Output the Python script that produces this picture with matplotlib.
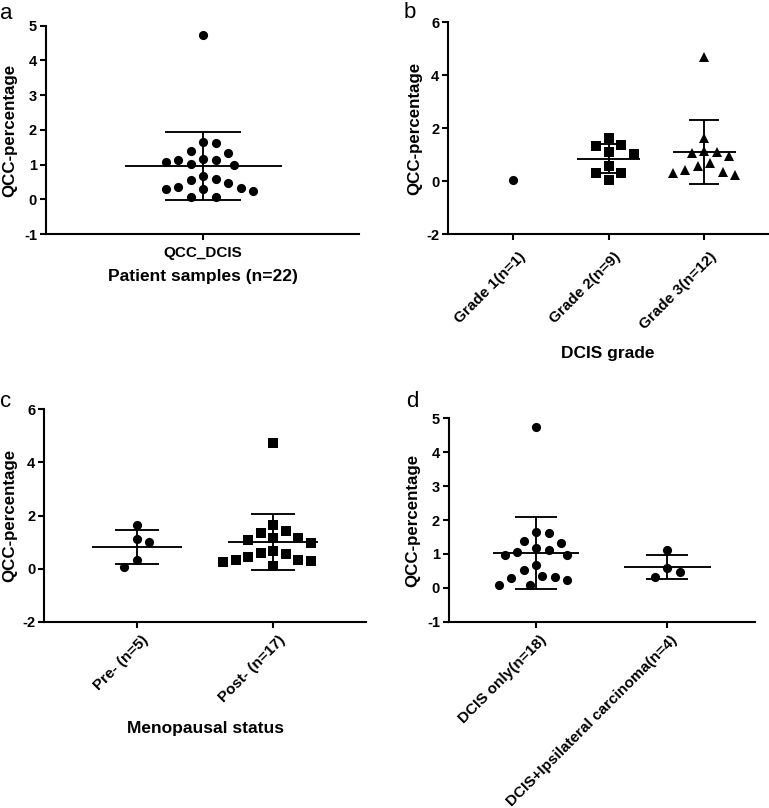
import numpy as np
import matplotlib
matplotlib.use('Agg')
import matplotlib.pyplot as plt
from matplotlib.transforms import ScaledTranslation

# ---------------- data ----------------
a_categories = ['QCC_DCIS']
a_all = [4.73, 1.63, 1.66, 1.39, 1.32, 1.12, 1.06, 0.99, 1.01, 1.12, 1.17,
         0.68, 0.56, 0.46, 0.59, 0.35, 0.30, 0.24, 0.30, 0.33, 0.07, 0.07]

b_categories = ['Grade 1(n=1)', 'Grade 2(n=9)', 'Grade 3(n=12)']
b_grade1 = [0.05]
b_grade2 = [1.65, 1.38, 1.33, 1.12, 1.02, 0.57, 0.31, 0.31, 0.05]
b_grade3 = [4.70, 1.65, 1.14, 1.12, 1.06, 0.97, 0.59, 0.68, 0.34, 0.25, 0.31, 0.43]

c_categories = ['Pre- (n=5)', 'Post- (n=17)']
c_pre = [1.66, 1.12, 0.99, 0.31, 0.06]
c_post = [4.73, 1.64, 1.34, 1.40, 1.16, 1.06, 1.17, 0.96, 0.68, 0.59,
          0.55, 0.45, 0.34, 0.28, 0.26, 0.32, 0.09]

d_categories = ['DCIS only(n=18)', 'DCIS+Ipsilateral carcinoma(n=4)']
d_only = [4.73, 1.63, 1.66, 1.39, 1.32, 1.17, 1.05, 0.98, 0.98, 1.11,
          0.68, 0.53, 0.31, 0.23, 0.30, 0.34, 0.07, 0.07]
d_ipsi = [1.12, 0.57, 0.46, 0.31]

y_label = 'QCC-percentage'
a_xlabel = 'Patient samples (n=22)'
b_xlabel = 'DCIS grade'
c_xlabel = 'Menopausal status'

# ---------------- style ----------------
W, H = 769, 808
DPI = 100
plt.rcParams['font.family'] = ['Liberation Sans', 'DejaVu Sans']
plt.rcParams['axes.unicode_minus'] = False

fig = plt.figure(figsize=(W / DPI, H / DPI), dpi=DPI)

AX_LW = 1.5
ERR_LW = 1.35
MS = 6.6          # marker size (pt)
SWARM_D = 12.5    # min distance between marker centres (px)


def px_axes(l, r, t, b):
    return fig.add_axes([l / W, 1 - b / H, (r - l) / W, (b - t) / H])


def swarm_offsets(ax, xc, vals, d):
    """Prism-like column scatter: offsets on a half-marker grid, no overlaps."""
    vals = np.asarray(vals, float)
    pts = ax.transData.transform(np.column_stack([np.full(len(vals), xc), vals]))
    x0 = pts[0, 0]
    ypx = pts[:, 1]
    xoff = np.zeros(len(vals))
    placed = []
    step = d / 2.0
    for i in np.argsort(-vals, kind='stable'):
        y = ypx[i]
        bias = sum(p[0] for p in placed)
        cands = [0.0]
        for k in range(1, 20):
            if bias > 0:
                cands += [-k * step, k * step]
            else:
                cands += [k * step, -k * step]
        for c in cands:
            ok = all((c - px_) ** 2 + (y - py_) ** 2 >= d * d - 1e-6 for (px_, py_) in placed)
            if ok:
                xoff[i] = c
                placed.append((c, y))
                break
    inv = ax.transData.inverted()
    return np.array([inv.transform((x0 + xoff[i], ypx[i]))[0] for i in range(len(vals))])


def panel(ax, groups, markers, xlim, ylim, yticks, cats, rotate, lab_dx, lab_dy):
    ax.set_xlim(*xlim)
    ax.set_ylim(*ylim)
    for s in ['top', 'right']:
        ax.spines[s].set_visible(False)
    for s in ['left', 'bottom']:
        ax.spines[s].set_linewidth(AX_LW)
    ax.set_yticks(yticks)
    ax.set_yticklabels([str(t) for t in yticks], fontsize=10.5, fontweight='bold')
    ax.tick_params(axis='both', width=AX_LW, length=4, direction='out', pad=2.5)
    ax.set_xticks(range(len(cats)))
    for i, (vals, mk) in enumerate(zip(groups, markers)):
        xs = swarm_offsets(ax, i, vals, SWARM_D)
        ax.plot(xs, vals, linestyle='none', marker=mk, ms=MS, color='black',
                markeredgewidth=0, zorder=3, clip_on=False)
        if len(vals) > 1:
            m = np.mean(vals)
            sd = np.std(vals, ddof=1)
            ax.hlines(m, i - 0.33, i + 0.33, color='black', lw=ERR_LW, zorder=4)
            ax.hlines([m - sd, m + sd], i - 0.16, i + 0.16, color='black', lw=ERR_LW, zorder=4)
            ax.vlines(i, m - sd, m + sd, color='black', lw=ERR_LW, zorder=4)
    if rotate:
        ax.set_xticklabels(cats, rotation=45, ha='right', va='top',
                           rotation_mode='anchor', fontsize=11, fontweight='bold')
        ax.tick_params(axis='x', pad=0)
        off = ScaledTranslation(lab_dx / DPI, -lab_dy / DPI, fig.dpi_scale_trans)
        for lab in ax.get_xticklabels():
            lab.set_transform(lab.get_transform() + off)
    else:
        ax.set_xticklabels(cats, fontsize=11, fontweight='bold')
        ax.tick_params(axis='x', pad=5)


# panel a
ax_a = px_axes(46, 359, 25.7, 234)
panel(ax_a, [a_all], ['o'], (-0.66, 0.655), (-1, 5), [-1, 0, 1, 2, 3, 4, 5],
      a_categories, False, 0, 0)

# panel b
ax_b = px_axes(448.3, 769, 22.3, 234.3)
panel(ax_b, [b_grade1, b_grade2, b_grade3], ['o', 's', '^'], (-0.682, 2.68),
      (-2, 6), [-2, 0, 2, 4, 6], b_categories, True, 5, 10)

# panel c
ax_c = px_axes(44.3, 366, 409.3, 621.7)
panel(ax_c, [c_pre, c_post], ['o', 's'], (-0.676, 1.679), (-2, 6),
      [-2, 0, 2, 4, 6], c_categories, True, 5, 6)

# panel d
ax_d = px_axes(449, 755, 418.3, 621.7)
panel(ax_d, [d_only, d_ipsi], ['o', 'o'], (-0.663, 1.668), (-1, 5),
      [-1, 0, 1, 2, 3, 4, 5], d_categories, True, 3, 6)

# y labels
for (xc, yc) in [(9.5, 130), (415, 128.3), (9.5, 515.5), (412.5, 520)]:
    fig.text(xc / W, 1 - yc / H, y_label, rotation=90, ha='center', va='center',
             fontsize=12.2, fontweight='bold')

# x labels
fig.text(202.5 / W, 1 - 277 / H, a_xlabel, ha='center', va='center',
         fontsize=12.5, fontweight='bold')
fig.text(608 / W, 1 - 353 / H, b_xlabel, ha='center', va='center',
         fontsize=12.5, fontweight='bold')
fig.text(205.5 / W, 1 - 729 / H, c_xlabel, ha='center', va='center',
         fontsize=12.5, fontweight='bold')

# panel letters
for (x, y, t) in [(0, 19, 'a'), (404, 18, 'b'), (0, 407, 'c'), (406, 407, 'd')]:
    fig.text(x / W, 1 - y / H, t, ha='left', va='baseline', fontsize=16)

fig.savefig('out.png', dpi=DPI)
